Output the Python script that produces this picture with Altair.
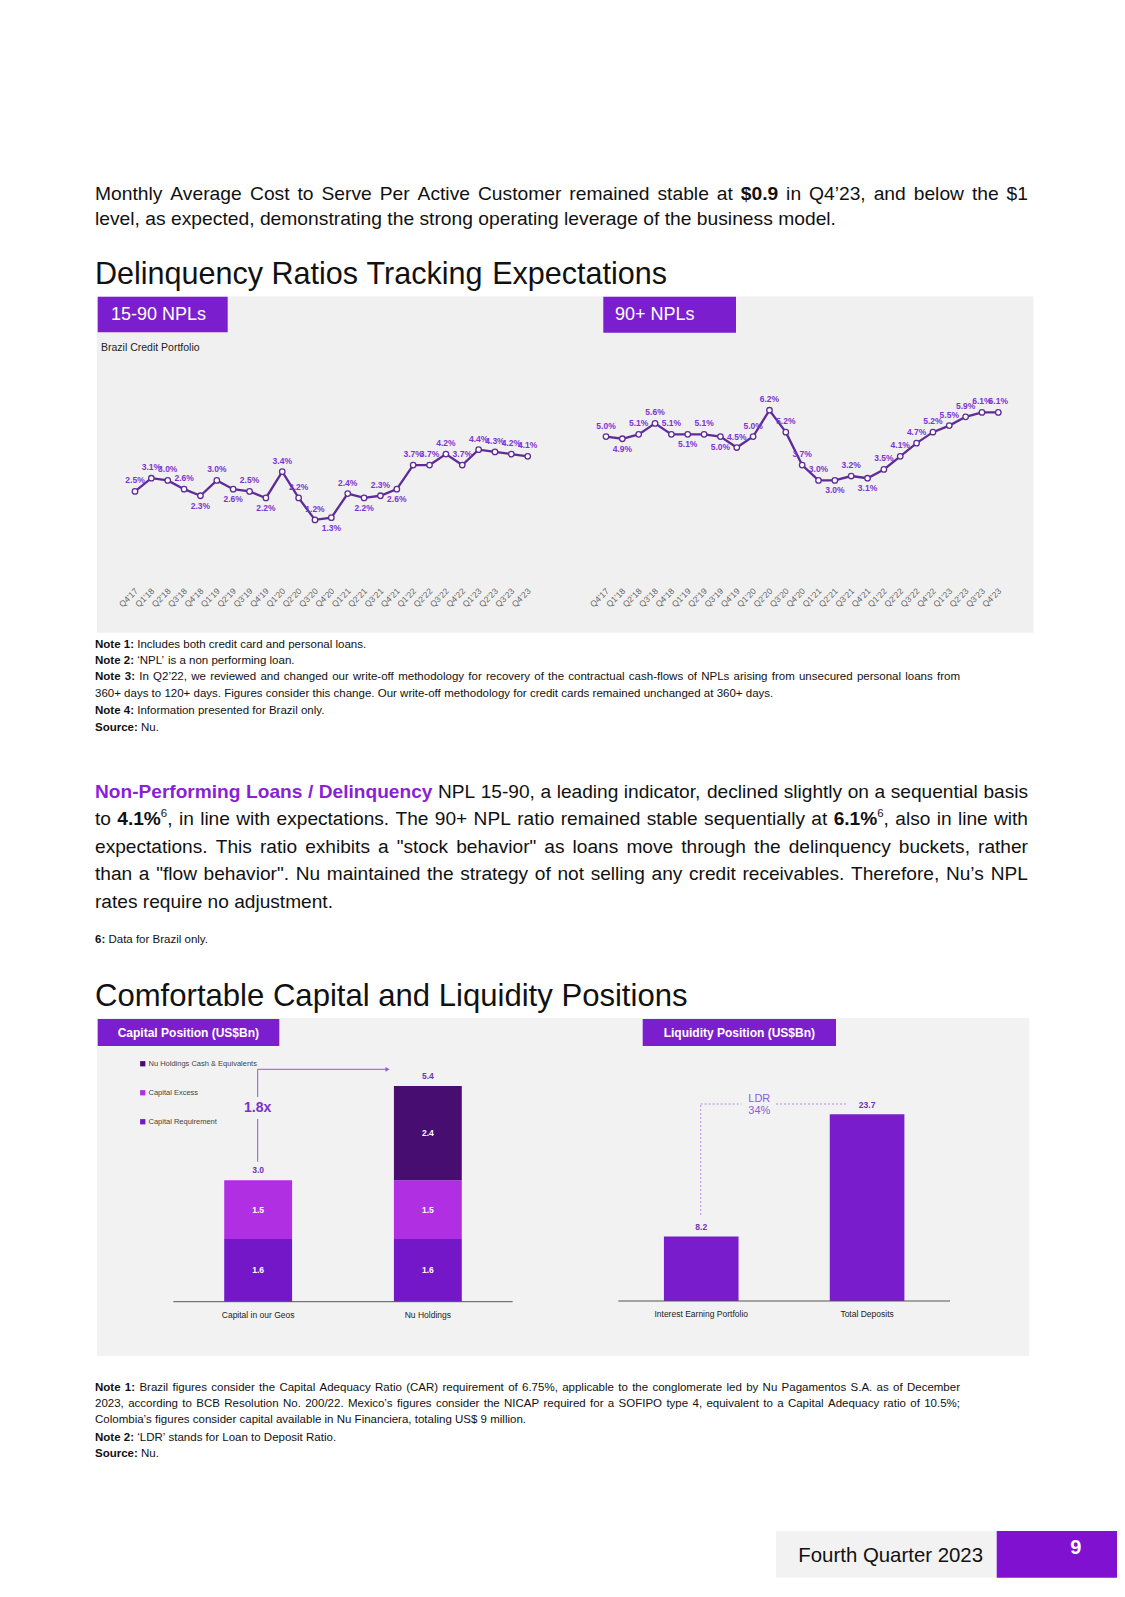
import altair as alt
import pandas as pd

# ---------------- data ----------------
QUARTERS = ["Q4’17", "Q1’18", "Q2’18", "Q3’18", "Q4’18", "Q1’19", "Q2’19", "Q3’19", "Q4’19",
            "Q1’20", "Q2’20", "Q3’20", "Q4’20", "Q1’21", "Q2’21", "Q3’21", "Q4’21",
            "Q1’22", "Q2’22", "Q3’22", "Q4’22", "Q1’23", "Q2’23", "Q3’23", "Q4’23"]
NPL_15_90 = [2.5, 3.1, 3.0, 2.6, 2.3, 3.0, 2.6, 2.5, 2.2, 3.4, 2.2, 1.2, 1.3,
             2.4, 2.2, 2.3, 2.6, 3.7, 3.7, 4.2, 3.7, 4.4, 4.3, 4.2, 4.1]
NPL_90 = [5.0, 4.9, 5.1, 5.6, 5.1, 5.1, 5.1, 5.0, 4.5, 5.0, 6.2, 5.2, 3.7,
          3.0, 3.0, 3.2, 3.1, 3.5, 4.1, 4.7, 5.2, 5.5, 5.9, 6.1, 6.1]
# label placement (a = above the point, b = below)
SIDE_15_90 = "aaaab" "ababa" "aabab" "abaaa" "aaaaa"
SIDE_90 = "abaaa" "babaa" "aaaab" "abaaa" "aaaaa"

CAP_CATS = ["Capital in our Geos", "Nu Holdings"]
CAP_SERIES = ["Capital Requirement", "Capital Excess", "Nu Holdings Cash & Equivalents"]
CAP_REQ = [1.6, 1.6]
CAP_EXCESS = [1.5, 1.5]
CAP_CASH = [0.0, 2.4]
CAP_TOTALS = [3.0, 5.4]
CAP_MULTIPLE = "1.8x"

LIQ_CATS = ["Interest Earning Portfolio", "Total Deposits"]
LIQ_VALUES = [8.2, 23.7]
LDR = ["LDR", "34%"]

# ---------------- style ----------------
FONT = "Liberation Sans"
INK = "#111111"
PURPLE_BOX = "#7b1fce"
PURPLE_TXT = "#8a1fd8"
LINE = "#5f2b96"
LBL = "#7d33d3"
PANEL = "#f0f0f0"
PANEL2 = "#f2f2f2"
C_REQ, C_EXC, C_CASH = "#7317c8", "#b02fe2", "#470d70"
C_LIQ = "#791ccb"
C_TOT = "#7131b8"
C_ARROW = "#8c5ad6"

O = 8  # page margin: page px -> chart px
CW, CH = 1109, 1572

# Arial / Liberation Sans advance widths (1/1000 em)
_R = {' ': 278, '!': 278, '"': 355, '#': 556, '$': 556, '%': 889, '&': 667, "'": 191, '(': 333, ')': 333,
      '*': 389, '+': 584, ',': 278, '-': 333, '.': 278, '/': 278, ':': 278, ';': 278, '?': 556,
      '‘': 222, '’': 222, '“': 333, '”': 333}
_R.update({d: 556 for d in "0123456789"})
_R.update(dict(zip("ABCDEFGHIJKLMNOPQRSTUVWXYZ",
                   [667, 667, 722, 722, 667, 611, 778, 722, 278, 500, 667, 556, 833, 722, 778, 667, 778, 722,
                    667, 611, 722, 667, 944, 667, 667, 611])))
_R.update(dict(zip("abcdefghijklmnopqrstuvwxyz",
                   [556, 556, 500, 556, 556, 278, 556, 556, 222, 222, 500, 222, 833, 556, 556, 556, 556, 333,
                    500, 278, 556, 500, 722, 500, 500, 500])))
_B = {' ': 278, '!': 333, '"': 474, '$': 556, '%': 889, '&': 722, "'": 238, '(': 333, ')': 333, '+': 584,
      ',': 278, '-': 333, '.': 278, '/': 278, ':': 333, ';': 333, '?': 611, '‘': 278, '’': 278}
_B.update({d: 556 for d in "0123456789"})
_B.update(dict(zip("ABCDEFGHIJKLMNOPQRSTUVWXYZ",
                   [722, 722, 722, 722, 667, 611, 778, 722, 278, 556, 722, 611, 833, 722, 778, 667, 778, 722,
                    667, 611, 722, 667, 944, 667, 667, 611])))
_B.update(dict(zip("abcdefghijklmnopqrstuvwxyz",
                   [556, 611, 556, 611, 556, 333, 611, 611, 278, 278, 556, 278, 889, 611, 611, 611, 611, 389,
                    556, 333, 611, 556, 778, 556, 556, 500])))


def tw(s, bold, size):
    d = _B if bold else _R
    return sum(d.get(c, 556) for c in s) * size / 1000.0


STY = {'r': (False, INK, 1.0, 0.0), 'b': (True, INK, 1.0, 0.0),
       'p': (True, PURPLE_TXT, 1.0, 0.0), 's': (False, INK, 0.6, 0.42)}


def words_of(segs):
    words, cur = [], []
    for text, st in segs:
        for i, part in enumerate(text.split(' ')):
            if i > 0 and cur:
                words.append(cur)
                cur = []
            if part:
                cur.append((part, st))
    if cur:
        words.append(cur)
    return words


def word_w(w, fs):
    return sum(tw(p, STY[st][0], fs * STY[st][2]) for p, st in w)


def fit_size(segs, width):
    ws = words_of(segs)
    nat = sum(word_w(w, 1.0) for w in ws) + (len(ws) - 1) * tw(' ', False, 1.0)
    return width / nat


def flow(lines, x0, x1, baselines, size):
    rows = []
    for (segs, just), yb in zip(lines, baselines):
        words = words_of(segs)
        fs = size
        while True:
            widths = [word_w(w, fs) for w in words]
            space = tw(' ', False, fs)
            if just and len(words) > 1:
                gap = (x1 - x0 - sum(widths)) / (len(words) - 1)
                if gap < 0.6 * space:
                    fs *= 0.99
                    continue
            else:
                gap = space
            break
        x = x0
        for w, wd in zip(words, widths):
            for p, st in w:
                bold, col, sc, rise = STY[st]
                rows.append(dict(x=x - O, y=yb - O - rise * fs, t=p, fs=fs * sc, c=col, b=bold))
                x += tw(p, bold, fs * sc)
            x += gap
    return pd.DataFrame(rows)


def text_layers(df):
    out = []
    for bold in (False, True):
        sub = df[df.b == bold].drop(columns='b')
        if len(sub):
            out.append(alt.Chart(sub).mark_text(align='left', baseline='alphabetic', font=FONT,
                                                fontWeight='bold' if bold else 'normal').encode(
                x=alt.X('x:Q', scale=None), y=alt.Y('y:Q', scale=None), text='t:N',
                size=alt.Size('fs:Q', scale=None), color=alt.Color('c:N', scale=None)))
    return out


DUMMY = pd.DataFrame({'k': [0]})


def box(x0, y0, x1, y1, color):
    return alt.Chart(DUMMY).mark_rect(color=color).encode(
        x=alt.value(x0 - O), x2=alt.value(min(x1 - O, CW)), y=alt.value(y0 - O), y2=alt.value(y1 - O))


def label(x, y, text, **kw):
    kw.setdefault('font', FONT)
    return alt.Chart(DUMMY).mark_text(text=text, **kw).encode(x=alt.value(x - O), y=alt.value(y - O))


def seg(x0, y0, x1, y1, **kw):
    return alt.Chart(DUMMY).mark_rule(**kw).encode(
        x=alt.value(x0 - O), x2=alt.value(x1 - O), y=alt.value(y0 - O), y2=alt.value(y1 - O))


layers = []

# ---------------- paragraph 1 + heading 1 ----------------
P1 = [([("Monthly Average Cost to Serve Per Active Customer remained stable at ", 'r'), ("$0.9", 'b'),
        (" in Q4’23, and below the $1", 'r')], True),
      ([("level, as expected, demonstrating the strong operating leverage of the business model.", 'r')], False)]
s1 = fit_size(P1[1][0], 741)
layers += text_layers(flow(P1, 95, 1028, [200, 225.2], s1))

H1 = [("Delinquency Ratios Tracking Expectations", 'r')]
layers += text_layers(flow([(H1, False)], 95, 1028, [284, ], fit_size(H1, 572)))

# ---------------- NPL panel ----------------
layers.append(box(97, 296.5, 1033.4, 632.7, PANEL))
layers.append(box(97.7, 296.7, 227.7, 332.3, PURPLE_BOX))
layers.append(box(603.3, 296.7, 736, 332.7, PURPLE_BOX))
layers.append(label(111, 315, "15-90 NPLs", fontSize=18, color='white', align='left', baseline='middle'))
layers.append(label(615, 315, "90+ NPLs", fontSize=18, color='white', align='left', baseline='middle'))
layers.append(label(101, 348.3, "Brazil Credit Portfolio", fontSize=10.5, color='#222', align='left',
                    baseline='middle'))

Y0, PX = 546.2, 21.93


def npl_layer(values, sides, xr):
    df = pd.DataFrame({'q': QUARTERS, 'v': values, 'side': list(sides)})
    df['lbl'] = [f"{v:.1f}%" for v in values]
    xs = alt.Scale(type='point', domain=QUARTERS, range=[xr[0] - O, xr[1] - O], padding=0)
    ys = alt.Scale(domain=[0, 7], range=[Y0 - O, Y0 - O - 7 * PX])
    base = alt.Chart(df).encode(x=alt.X('q:N', scale=xs, axis=None, sort=QUARTERS),
                                y=alt.Y('v:Q', scale=ys, axis=None))
    line = base.mark_line(color=LINE, strokeWidth=2.3)
    pts = base.mark_point(filled=True, fill='white', stroke=LINE, strokeWidth=1.3, size=30, opacity=1)
    txt = dict(font=FONT, fontWeight='bold', fontSize=8.5, color=LBL, baseline='middle')
    above = base.transform_filter("datum.side == 'a'").mark_text(dy=-11, **txt).encode(text='lbl:N')
    below = base.transform_filter("datum.side == 'b'").mark_text(dy=10, **txt).encode(text='lbl:N')
    ticks = alt.Chart(df).mark_text(angle=315, align='right', baseline='middle', fontSize=8.5,
                                    color='#666', font=FONT, dx=2).encode(
        x=alt.X('q:N', scale=xs, axis=None, sort=QUARTERS), y=alt.value(591 - O), text='q:N')
    return alt.layer(line, pts, above, below, ticks)


layers.append(npl_layer(NPL_15_90, SIDE_15_90, (135, 527.7)))
layers.append(npl_layer(NPL_90, SIDE_90, (606, 998.3)))

# ---------------- notes 1 ----------------
NOTES1 = [
    ([("Note 1:", 'b'), (" Includes both credit card and personal loans.", 'r')], False),
    ([("Note 2:", 'b'), (" ‘NPL’ is a non performing loan.", 'r')], False),
    ([("Note 3:", 'b'), (" In Q2’22, we reviewed and changed our write-off methodology for recovery of the "
                         "contractual cash-flows of NPLs arising from unsecured personal loans from", 'r')], True),
    ([("360+ days to 120+ days. Figures consider this change. Our write-off methodology for credit cards "
       "remained unchanged at 360+ days.", 'r')], False),
    ([("Note 4:", 'b'), (" Information presented for Brazil only.", 'r')], False),
    ([("Source:", 'b'), (" Nu.", 'r')], False),
]
NOTES2 = [
    ([("Note 1:", 'b'), (" Brazil figures consider the Capital Adequacy Ratio (CAR) requirement of 6.75%, "
                         "applicable to the conglomerate led by Nu Pagamentos S.A. as of December", 'r')], True),
    ([("2023, according to BCB Resolution No. 200/22. Mexico’s figures consider the NICAP required for a "
       "SOFIPO type 4, equivalent to a Capital Adequacy ratio of 10.5%;", 'r')], True),
    ([("Colombia’s figures consider capital available in Nu Financiera, totaling US$ 9 million.", 'r')], False),
    ([("Note 2:", 'b'), (" ‘LDR’ stands for Loan to Deposit Ratio.", 'r')], False),
    ([("Source:", 'b'), (" Nu.", 'r')], False),
]
ns = fit_size(NOTES2[2][0], 431)
layers += text_layers(flow(NOTES1, 95, 960, [647.5, 664, 680.2, 697.3, 713.6, 731], ns))

# ---------------- paragraph 2 ----------------
P2 = [
    ([("Non-Performing Loans / Delinquency", 'p'),
      (" NPL 15-90, a leading indicator, declined slightly on a sequential basis", 'r')], True),
    ([("to ", 'r'), ("4.1%", 'b'), ("6", 's'),
      (", in line with expectations. The 90+ NPL ratio remained stable sequentially at ", 'r'),
      ("6.1%", 'b'), ("6", 's'), (", also in line with", 'r')], True),
    ([('expectations. This ratio exhibits a "stock behavior" as loans move through the delinquency '
       'buckets, rather', 'r')], True),
    ([('than a "flow behavior". Nu maintained the strategy of not selling any credit receivables. '
       'Therefore, Nu’s NPL', 'r')], True),
    ([("rates require no adjustment.", 'r')], False),
]
s2 = fit_size(P2[4][0], 238)
layers += text_layers(flow(P2, 95, 1028, [797.8, 825.4, 852.8, 880.3, 907.8], s2))
layers += text_layers(flow([([("6:", 'b'), (" Data for Brazil only.", 'r')], False)], 95, 1028, [942.7], ns))

H2 = [("Comfortable Capital and Liquidity Positions", 'r')]
layers += text_layers(flow([(H2, False)], 95, 1028, [1005.5], fit_size(H2, 592.5)))

# ---------------- capital & liquidity panel ----------------
layers.append(box(97, 1018, 1029.3, 1356, PANEL2))
layers.append(box(97.7, 1019, 279.3, 1046, PURPLE_BOX))
layers.append(box(642.7, 1019, 836, 1046, PURPLE_BOX))
layers.append(label(117.7, 1032.5, "Capital Position  (US$Bn)", fontSize=12, fontWeight='bold',
                    color='white', align='left', baseline='middle'))
layers.append(label(739.3, 1032.5, "Liquidity Position (US$Bn)", fontSize=12, fontWeight='bold',
                    color='white', align='center', baseline='middle'))

# capital stacked bars
rows = []
for i, c in enumerate(CAP_CATS):
    for j, (s, v) in enumerate(zip(CAP_SERIES, (CAP_REQ[i], CAP_EXCESS[i], CAP_CASH[i]))):
        if v > 0:
            rows.append(dict(cat=c, series=s, v=v, order=j, lbl=f"{v:.1f}"))
cap = pd.DataFrame(rows)
tot = pd.DataFrame({'cat': CAP_CATS, 'top': cap.groupby('cat', sort=False)['v'].sum().values,
                    'lbl': [f"{t:.1f}" for t in CAP_TOTALS]})
cx = alt.Scale(type='band', domain=CAP_CATS, range=[173.3 - O, 512.7 - O], paddingInner=0.6, paddingOuter=0.3)
cy = alt.Scale(domain=[0, 6], range=[1301.7 - O, 1301.7 - O - 6 * 39.2])
cc = alt.Scale(domain=CAP_SERIES[::-1], range=[C_CASH, C_EXC, C_REQ])
cbase = alt.Chart(cap).transform_stack(stack='v', groupby=['cat'], as_=['v0', 'v1'],
                                       sort=[alt.SortField('order', 'ascending')]) \
    .transform_calculate(mid="(datum.v0 + datum.v1) / 2")
cbars = cbase.mark_bar().encode(
    x=alt.X('cat:N', scale=cx, axis=None), y=alt.Y('v0:Q', scale=cy, axis=None), y2='v1:Q',
    color=alt.Color('series:N', scale=cc, legend=alt.Legend(
        orient='none', legendX=131, legendY=1052, title=None, symbolType='square', symbolSize=28,
        symbolStrokeWidth=0, labelFontSize=7.5, labelColor='#444', labelFont=FONT, rowPadding=20,
        padding=0, labelOffset=2)))
cseg = cbase.mark_text(font=FONT, fontWeight='bold', fontSize=8.5, color='white', baseline='middle').encode(
    x=alt.X('cat:N', scale=cx, axis=None), y=alt.Y('mid:Q', scale=cy, axis=None), text='lbl:N')
ctot = alt.Chart(tot).mark_text(font=FONT, fontWeight='bold', fontSize=8.5, color=C_TOT, baseline='middle',
                                dy=-10).encode(
    x=alt.X('cat:N', scale=cx, axis=None), y=alt.Y('top:Q', scale=cy, axis=None), text='lbl:N')
caxis = alt.Chart(DUMMY).mark_rule(color='#555', strokeWidth=1).encode(
    y=alt.Y(datum=0, scale=cy, axis=None), x=alt.value(173.3 - O), x2=alt.value(512.7 - O))
ccat = alt.Chart(pd.DataFrame({'cat': CAP_CATS})).mark_text(font=FONT, fontSize=8.5, color='#222',
                                                            baseline='middle').encode(
    x=alt.X('cat:N', scale=cx, axis=None), y=alt.value(1315 - O), text='cat:N')
layers.append(alt.layer(cbars, cseg, ctot, caxis, ccat))

# 1.8x arrow
layers.append(seg(257.7, 1161.7, 257.7, 1119, color=C_ARROW, strokeWidth=1))
layers.append(seg(257.7, 1097, 257.7, 1069.3, color=C_ARROW, strokeWidth=1))
layers.append(seg(257.7, 1069.3, 386, 1069.3, color=C_ARROW, strokeWidth=1))
layers.append(alt.Chart(DUMMY).mark_point(shape='triangle-right', filled=True, size=22, color=C_ARROW,
                                          opacity=1).encode(x=alt.value(387.5 - O), y=alt.value(1069.3 - O)))
layers.append(label(257.7, 1108, CAP_MULTIPLE, fontSize=14, fontWeight='bold', color='#7b30cc',
                    align='center', baseline='middle'))

# liquidity bars
liq = pd.DataFrame({'cat': LIQ_CATS, 'v': LIQ_VALUES, 'lbl': [f"{v:.1f}" for v in LIQ_VALUES]})
lx = alt.Scale(type='band', domain=LIQ_CATS, range=[618.3 - O, 950 - O], paddingInner=0.55, paddingOuter=0.275)
ly = alt.Scale(domain=[0, 25], range=[1301 - O, 1301 - O - 25 * 7.878])
lbase = alt.Chart(liq).encode(x=alt.X('cat:N', scale=lx, axis=None), y=alt.Y('v:Q', scale=ly, axis=None))
lbars = lbase.mark_bar(color=C_LIQ)
llbl = lbase.mark_text(font=FONT, fontWeight='bold', fontSize=8.5, color=C_TOT, baseline='middle',
                       dy=-9).encode(text='lbl:N')
laxis = alt.Chart(DUMMY).mark_rule(color='#555', strokeWidth=1).encode(
    y=alt.Y(datum=0, scale=ly, axis=None), x=alt.value(618.3 - O), x2=alt.value(950 - O))
lcat = alt.Chart(liq).mark_text(font=FONT, fontSize=8.5, color='#222', baseline='middle').encode(
    x=alt.X('cat:N', scale=lx, axis=None), y=alt.value(1314 - O), text='cat:N')
layers.append(alt.layer(lbars, llbl, laxis, lcat))

# LDR connector
DOT = dict(color='#b48fe3', strokeWidth=1, strokeDash=[2, 2])
layers.append(seg(700.7, 1215, 700.7, 1104, **DOT))
layers.append(seg(700.7, 1104, 741.5, 1104, **DOT))
layers.append(seg(776, 1104, 847.3, 1104, **DOT))
layers.append(label(759.3, 1099, LDR[0], fontSize=11, color='#8e5bd6', align='center', baseline='middle'))
layers.append(label(759.3, 1111, LDR[1], fontSize=11, color='#8e5bd6', align='center', baseline='middle'))

# ---------------- notes 2 ----------------
layers += text_layers(flow(NOTES2, 95, 960, [1390.7, 1407, 1423.2, 1440.5, 1456.8], ns))

# ---------------- footer ----------------
layers.append(box(776, 1531, 996.7, 1577.7, PANEL2))
layers.append(box(996.7, 1531, 1125, 1577.7, "#8011d0"))
layers.append(label(798.3, 1562, "Fourth Quarter 2023", fontSize=20.4, color='#111', align='left',
                    baseline='alphabetic'))
layers.append(label(1075.7, 1547.7, "9", fontSize=20, fontWeight='bold', color='white', align='center',
                    baseline='middle'))

chart = alt.layer(*layers).resolve_scale(x='independent', y='independent', color='independent').properties(
    width=CW, height=CH, padding=0, autosize=alt.AutoSizeParams(type='none'), background='white'
).configure_view(strokeWidth=0)

chart.save("out.html", embed_options={"renderer": "svg", "actions": False})
